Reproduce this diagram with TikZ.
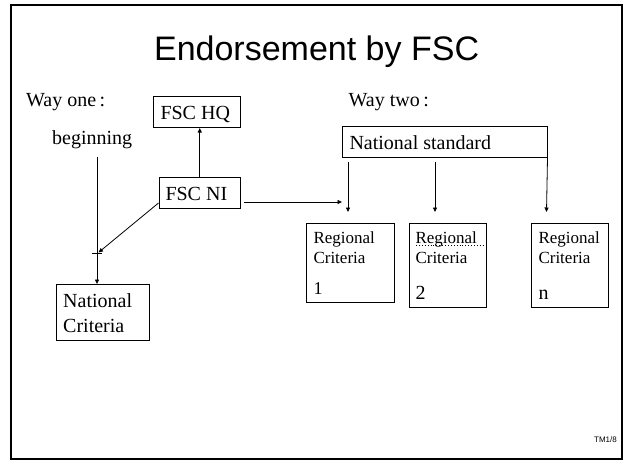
\documentclass[tikz,border=0pt]{standalone}
\usepackage{fontspec}
\setmainfont{Liberation Serif}
\newfontfamily\titlefont{Liberation Sans}
\usetikzlibrary{arrows.meta}
\newcommand{\bxc}[4]{\parbox[c][#2][t]{#1}{\raggedright\rule{0pt}{#3}#4}}
\tikzset{
  box/.style={draw=black, line width=1pt, inner ysep=0pt, anchor=north west},
  conn/.style={draw=black, line width=0.8pt, -{Triangle[length=4.5pt,width=4pt]}},
  plain/.style={inner sep=0pt, anchor=base west},
}
\begin{document}
\begin{tikzpicture}[x=1pt,y=-1pt]
\useasboundingbox (0,0) rectangle (624,461);
\fill[white] (0,0) rectangle (624,461);
\draw[line width=2pt] (11,5) rectangle (621.5,459);

% title and labels
\node[inner sep=0pt, anchor=base, font=\fontsize{34}{40}\titlefont] (title) at (316.6,60) {Endorsement by FSC};
\node[plain, font=\fontsize{20}{24}\selectfont] (way1) at (26,106) {Way one\hspace{3.5pt}:};
\node[plain, font=\fontsize{20}{24}\selectfont] (way2) at (348.5,106) {Way two\hspace{3.5pt}:};
\node[plain, font=\fontsize{20}{24}\selectfont] (beg) at (52,144) {beginning};
\node[inner sep=0pt, anchor=base east, font=\fontsize{8}{9}\titlefont] (tm) at (617,442) {TM1/8};

% boxes
\node[box, inner xsep=7pt, font=\fontsize{20}{24}\selectfont] (hq) at (153,96) {\bxc{73pt}{31pt}{23.3pt}{FSC HQ}};
\node[box, inner xsep=6.5pt, font=\fontsize{20}{24}\selectfont] (ni) at (158.5,177) {\bxc{68.5pt}{31pt}{23pt}{FSC NI}};
\node[box, inner xsep=7pt, font=\fontsize{20}{24}\selectfont] (ns) at (342,126) {\bxc{191pt}{31pt}{23pt}{National standard}};
\node[box, inner xsep=6.7pt, font=\fontsize{20}{25}\selectfont] (nc) at (56,284) {\bxc{79.1pt}{56pt}{23pt}{National\\Criteria}};
\node[box, inner xsep=7pt, font=\fontsize{17}{20}\selectfont] (r1) at (306,223) {\bxc{74pt}{79pt}{20pt}{Regional\\Criteria\\[11pt]{\fontsize{18}{20}\selectfont 1}}};
\node[box, inner xsep=6pt, font=\fontsize{17}{20}\selectfont] (r2) at (409,223) {\bxc{65pt}{84pt}{20pt}{Regional\\Criteria\\[16pt]{\fontsize{20}{20}\selectfont 2}}};
\node[box, inner xsep=7pt, font=\fontsize{17}{20}\selectfont] (rn) at (531,223) {\bxc{63pt}{84pt}{20pt}{Regional\\Criteria\\[16pt]{\fontsize{20}{20}\selectfont n}}};

% dotted mark under "Regional" in box 2
\coordinate (d1) at (416,245);
\coordinate (d2) at (485,245);
\draw[line width=0.9pt, dotted] (d1) -- (d2);

% connectors
\draw[conn] (ni.north) -- (ni.north |- hq.south);

\coordinate (e1) at (244,202);
\coordinate (e2) at (342,202);
\draw[conn] (e1) -- (e2);

\coordinate (s1) at (348,162);
\coordinate (t1) at (348,212);
\draw[conn] (s1) -- (t1);
\coordinate (s2) at (435,162);
\coordinate (t2) at (435,212);
\draw[conn] (s2) -- (t2);
\coordinate (t3) at (546.5,212);
\draw[conn] ([xshift=-0.5pt]ns.south east) -- (t3);

\coordinate (b1) at (97,157);
\draw[conn] (b1) -- (b1 |- nc.north);

\coordinate (jn) at (98.5,252.5);
\draw[conn] (ni.west |- 0,203) -- (jn);
\coordinate (k1) at (91.5,253.5);
\coordinate (k2) at (101.5,253.5);
\draw[line width=0.8pt] (k1) -- (k2);
\end{tikzpicture}
\end{document}
